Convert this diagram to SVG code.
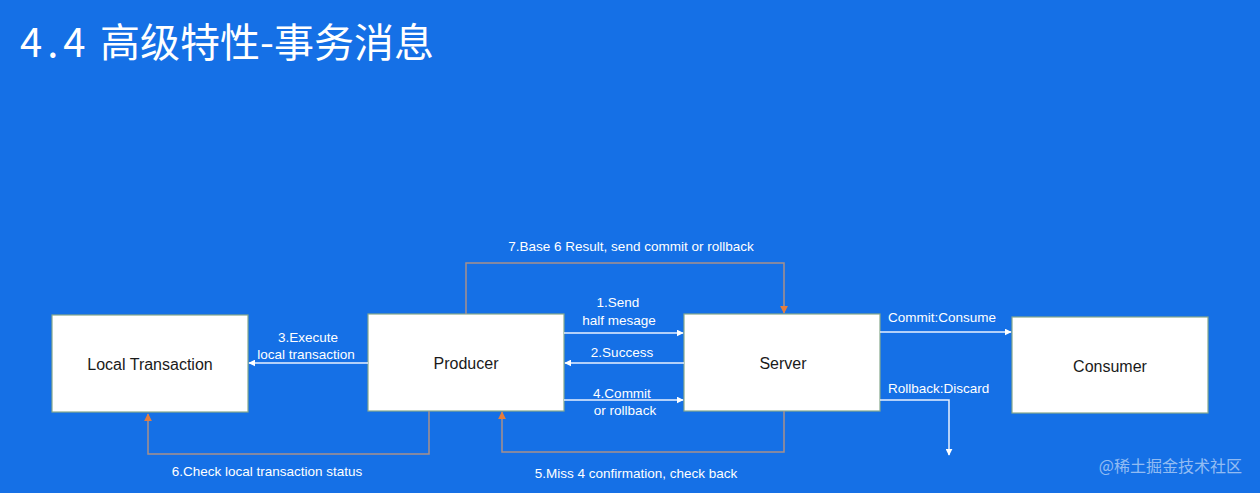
<svg xmlns="http://www.w3.org/2000/svg" width="1260" height="493" viewBox="0 0 1260 493">
<style>
.node rect{fill:#ffffff;stroke:#86a88c;stroke-width:1.2}
.node text{font-family:"Liberation Sans","Noto Sans",sans-serif;font-size:16px;fill:#1a1a1a;text-anchor:middle}
.lbl{font-family:"Liberation Sans","Noto Sans",sans-serif;font-size:13.5px;fill:#ffffff}
.c{text-anchor:middle}
.w{fill:none;stroke:#e8f0ff;stroke-width:1.5}
.o{fill:none;stroke:#a8908a;stroke-width:1.5}
</style>
<defs>
<marker id="aw" viewBox="0 0 10 10" refX="9" refY="5" markerWidth="7" markerHeight="7" markerUnits="userSpaceOnUse" orient="auto"><path d="M0,0 L10,5 L0,10 z" fill="#ffffff"/></marker>
<marker id="ao" viewBox="0 0 10 10" refX="9" refY="5" markerWidth="8" markerHeight="8" markerUnits="userSpaceOnUse" orient="auto"><path d="M0,0 L10,5 L0,10 z" fill="#e57d3c"/></marker>
</defs>
<rect x="0" y="0" width="1260" height="493" fill="#1570e6"/>
<text x="20" y="57" font-family="'Noto Sans CJK SC',sans-serif" font-size="40" fill="#ffffff"><tspan letter-spacing="5">4.4</tspan><tspan x="100">高级特性-事务消息</tspan></text>

<g id="local-transaction" class="node"><rect x="52" y="315" width="196" height="97"/><text x="150" y="370">Local Transaction</text></g>
<g id="producer" class="node"><rect x="368" y="314" width="196" height="97"/><text x="466" y="369">Producer</text></g>
<g id="server" class="node"><rect x="684" y="314" width="196" height="97"/><text x="783" y="369">Server</text></g>
<g id="consumer" class="node"><rect x="1012" y="317" width="196" height="96"/><text x="1110" y="372">Consumer</text></g>

<g id="connectors">
<path class="w" d="M564,333 L683,333" marker-end="url(#aw)"/>
<path class="w" d="M684,363 L565,363" marker-end="url(#aw)"/>
<path class="w" d="M564,400 L683,400" marker-end="url(#aw)"/>
<path class="w" d="M368,363 L249,363" marker-end="url(#aw)"/>
<path class="w" d="M880,332 L1011,332" marker-end="url(#aw)"/>
<path class="w" d="M880,400 L949,400 L949,455" marker-end="url(#aw)"/>
<path class="o" d="M466,314 L466,263 L784,263 L784,313" marker-end="url(#ao)"/>
<path class="o" d="M429,411 L429,454 L148,454 L148,414" marker-end="url(#ao)"/>
<path class="o" d="M784,411 L784,452 L502,452 L502,412" marker-end="url(#ao)"/>
</g>

<g id="labels">
<text class="lbl c" x="618" y="307">1.Send</text>
<text class="lbl c" x="619" y="325">half mesage</text>
<text class="lbl c" x="622" y="357">2.Success</text>
<text class="lbl c" x="622" y="398">4.Commit</text>
<text class="lbl c" x="625" y="415">or rollback</text>
<text class="lbl c" x="308" y="342">3.Execute</text>
<text class="lbl c" x="306" y="359">local transaction</text>
<text class="lbl c" x="631" y="251">7.Base 6 Result, send commit or rollback</text>
<text class="lbl c" x="267" y="476">6.Check local transaction status</text>
<text class="lbl c" x="636" y="478">5.Miss 4 confirmation, check back</text>
<text class="lbl" x="888" y="322">Commit:Consume</text>
<text class="lbl" x="888" y="393">Rollback:Discard</text>
</g>
<text x="1242" y="472" text-anchor="end" font-family="'Noto Sans CJK SC',sans-serif" font-size="16" fill="#ffffff" fill-opacity="0.55">@稀土掘金技术社区</text>
</svg>
